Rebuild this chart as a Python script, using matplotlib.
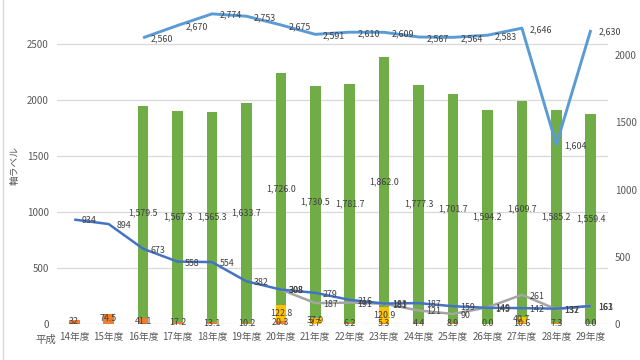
import matplotlib
matplotlib.use('Agg')
import matplotlib.pyplot as plt
from matplotlib.lines import Line2D
import numpy as np

plt.rcParams['font.family'] = ['Noto Sans CJK JP', 'DejaVu Sans']

# ---------------- data ----------------
years = ['14年度', '15年度', '16年度', '17年度', '18年度', '19年度', '20年度', '21年度',
         '22年度', '23年度', '24年度', '25年度', '26年度', '27年度', '28年度', '29年度']

# lines (left axis)
blue_line = [934, 894, 673, 558, 554, 382, 308, 279, 216, 183, 187, 159, 145, 142, 137, 161]
gray_line = [None, None, None, None, None, None, 308, 187, 191, 181, 121, 90, 149, 261, 132, 163]
lightblue_line = [None, None, 2560, 2670, 2774, 2753, 2675, 2591, 2610, 2609, 2567, 2564,
                  2583, 2646, 1604, 2630]

# stacked bars (right axis)
orange_bar = [32, 74.5, 41.1, 17.2, 13.1, 10.2, 20.3, 3.7, 6.2, 5.3, 4.4, 8.9, 0.0, 10.6, 7.3, 0.0]
yellow_bar = [None, None, None, None, None, None, 122.8, 37.9, None, 120.9, None, None,
              None, 40.7, None, None]
green_bar = [None, None, 1579.5, 1567.3, 1565.3, 1633.7, 1726.0, 1730.5, 1781.7, 1862.0,
             1777.3, 1701.7, 1594.2, 1609.7, 1585.2, 1559.4]

left_ticks = [0, 500, 1000, 1500, 2000, 2500]
right_ticks = [0, 500, 1000, 1500, 2000]

# ---------------- style ----------------
C_BLUE = '#4472C4'
C_ORANGE = '#ED7D31'
C_GRAY = '#A5A5A5'
C_YELLOW = '#FFC000'
C_LBLUE = '#5B9BD5'
C_GREEN = '#70AD47'
C_TXT = '#404040'
C_TICK = '#595959'
C_GRID = '#D9D9D9'

L_TOP = 2898
R_TOP = 2411

fig = plt.figure(figsize=(6.4, 3.6), dpi=100)
axL = fig.add_axes([57 / 640, 36 / 360, (608 - 57) / 640, 324 / 360])
axR = axL.twinx()

# lines axis on top of bars axis
axL.set_zorder(2)
axL.patch.set_visible(False)
axR.set_zorder(1)
axR.patch.set_visible(False)

x = np.arange(len(years))
axL.set_xlim(-0.5, len(years) - 0.5)
axL.set_ylim(0, L_TOP)
axR.set_ylim(0, R_TOP)

# gridlines (left-axis levels) drawn behind bars
for t in left_ticks:
    axR.axhline(t * R_TOP / L_TOP, color=C_GRID, lw=0.9, zorder=0)


def arr(v):
    return np.array([np.nan if a is None else a for a in v], dtype=float)


o = arr(orange_bar)
yv = arr(yellow_bar)
g = arr(green_bar)
o0 = np.nan_to_num(o)
y0 = np.nan_to_num(yv)

bw = 0.31
axR.bar(x, o0, bw, color=C_ORANGE, zorder=2)
axR.bar(x, y0, bw, bottom=o0, color=C_YELLOW, zorder=2)
axR.bar(x, np.nan_to_num(g), bw, bottom=o0 + y0, color=C_GREEN, zorder=2)

lfs = 6.4
for i in range(len(years)):
    if not np.isnan(o[i]):
        axR.text(x[i], o0[i] / 2, f'{o[i]:,.1f}' if i > 0 else f'{o[i]:.0f}',
                 ha='center', va='center', fontsize=lfs, color=C_TXT, zorder=5)
    if not np.isnan(yv[i]):
        axR.text(x[i], o0[i] + yv[i] / 2, f'{yv[i]:,.1f}', ha='center', va='center',
                 fontsize=lfs, color=C_TXT, zorder=5)
    if not np.isnan(g[i]):
        axR.text(x[i], o0[i] + y0[i] + g[i] / 2, f'{g[i]:,.1f}', ha='center', va='center',
                 fontsize=lfs, color=C_TXT, zorder=5)

# lines
for vals, col, lw in [(gray_line, C_GRAY, 1.8), (blue_line, C_BLUE, 1.8),
                      (lightblue_line, C_LBLUE, 2.1)]:
    v = arr(vals)
    axL.plot(x, v, color=col, lw=lw, solid_capstyle='butt', zorder=3)
    for i in range(len(v)):
        if not np.isnan(v[i]):
            axL.annotate(f'{int(v[i]):,}', (x[i], v[i]), xytext=(5.5, -1),
                         textcoords='offset points', ha='left', va='center',
                         fontsize=lfs, color=C_TXT, zorder=6)

# axes styling
axL.set_yticks(left_ticks)
axL.set_yticklabels([str(t) for t in left_ticks])
axR.set_yticks(right_ticks)
axR.set_yticklabels([str(t) for t in right_ticks])
axL.set_xticks(x)
axL.set_xticklabels(years)
axR.tick_params(axis='x', bottom=False, labelbottom=False)

for a in (axL, axR):
    for s in a.spines.values():
        s.set_visible(False)
axL.tick_params(axis='both', length=0, labelsize=7, colors=C_TICK)
axL.tick_params(axis='y', pad=6)
axL.tick_params(axis='x', pad=6)
axR.tick_params(axis='y', length=0, labelsize=7, colors=C_TICK, pad=5)

axL.set_ylabel('軸ラベル', fontsize=7, color=C_TICK)
axL.yaxis.set_label_coords(-0.067, 0.49)
fig.text(46 / 640, 1 - 340 / 360, '平成', ha='center', va='center', fontsize=7.5, color=C_TICK)

# chart frame left edge
fig.add_artist(Line2D([3 / 640, 3 / 640], [0, 1], transform=fig.transFigure,
                      color=C_GRID, lw=1))

fig.savefig('out.png', dpi=100)
